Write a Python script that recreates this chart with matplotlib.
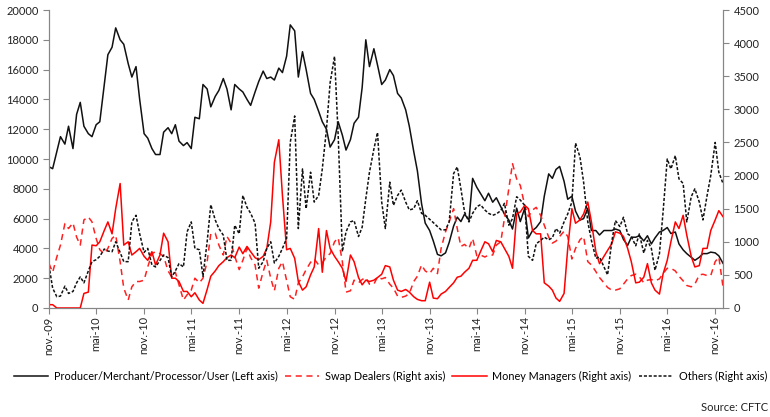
import matplotlib
matplotlib.use('Agg')
import matplotlib.pyplot as plt
import matplotlib.dates as mdates
import pandas as pd

plt.rcParams['font.family'] = ['Lato', 'DejaVu Sans']

################## Datos (dos puntos por mes, nov-09 -> dic-16)
producer = [
    9480, 9350, 10500, 11500,
    11000, 12200, 10700, 13000, 13800, 12200, 11700, 11500, 12300, 12500, 15000, 17000,
    17500, 18800, 18000, 17700, 16400, 15500, 16200, 14000, 11700, 11400, 10700, 10300,
    10300, 11800, 12100, 11700, 12300, 11200, 10900, 11100, 10700, 12800, 12700, 15000,
    14700, 13500, 14200, 14600, 15400, 14700, 13300, 15000, 14700, 14500, 14000, 13600,
    14500, 15200, 15900, 15400, 15500, 15300, 16100, 15800, 16900, 19000, 18600, 15500,
    17200, 16000, 14400, 14000, 13200, 12500, 12000, 10800, 11300, 12500, 11600, 10600,
    11300, 12400, 12800, 14800, 18000, 16200, 17400, 16300, 15000, 15300, 16000, 15600,
    14400, 14100, 13300, 12200, 10500, 9200, 7000, 5700, 5200, 4500, 3600, 3500,
    3700, 4400, 5500, 6100, 5800, 6300, 5900, 8700, 8100, 7700, 7200, 7700,
    7100, 7400, 6800, 6300, 5900, 5300, 6700, 5800, 6700, 4700, 5200, 5400,
    5800, 7500, 9000, 8700, 9300, 9500, 8500, 7300, 7500, 6500, 5900, 6000,
    6700, 5200, 5200, 4900, 5200, 5200, 5200, 5300, 5200, 4600, 4200, 4750,
    4750, 4850, 4500, 4850, 4300, 4700, 5100, 5200, 5400, 5000, 5100, 4300,
    3900, 3650, 3400, 3200, 3400, 3650, 3650, 3750, 3700, 3500, 3000,
]
swap_dealers = [
    670, 540, 770, 950,
    1275, 1200, 1285, 1070, 950, 1330, 1375, 1300, 1050, 880, 820, 900,
    1050, 1100, 700, 300, 120, 320, 400, 400, 420, 620, 820, 850,
    820, 780, 560, 470, 540, 350, 120, 200, 270, 450, 380, 450,
    700, 1120, 1130, 950, 800, 1080, 980, 780, 580, 720, 900, 760,
    650, 300, 550, 720, 450, 260, 600, 700, 420, 170, 130, 380,
    470, 580, 690, 740, 650, 680, 780, 820, 1000, 1060, 700, 240,
    260, 420, 380, 430, 460, 360, 360, 470, 440, 460, 360, 300,
    180, 160, 180, 220, 400, 480, 650, 560, 520, 600, 520, 900,
    1150, 1300, 1500, 1200, 930, 960, 900, 1050, 790, 800, 770, 800,
    800, 950, 1000, 1350, 1800, 2180, 1950, 1850, 1550, 1380, 1480, 1520,
    1400, 1250, 1070, 980, 1010, 1080, 1160, 1080, 740, 900, 1030, 1080,
    700, 650, 550, 460, 380, 310, 270, 270, 290, 360, 440, 490,
    510, 470, 380, 420, 430, 410, 440, 520, 600, 600, 560, 480,
    410, 340, 320, 360, 500, 510, 490, 490, 700, 770, 320,
]
money_managers = [
    50, 50, 0, 0,
    0, 0, 0, 0, 0, 220, 240, 950, 940, 1000, 1170, 1300,
    1120, 1500, 1880, 950, 1000, 800, 850, 900, 780, 720, 850, 650,
    800, 1130, 1000, 450, 450, 400, 250, 250, 170, 230, 120, 70,
    280, 480, 560, 640, 700, 760, 800, 760, 920, 820, 930, 850,
    760, 730, 780, 900, 1300, 2200, 2540, 1700, 880, 900, 750, 400,
    270, 320, 500, 620, 1200, 540, 1170, 900, 780, 700, 600, 400,
    800, 700, 460, 350, 420, 400, 420, 460, 510, 640, 620, 420,
    270, 250, 280, 240, 170, 130, 110, 110, 390, 150, 140, 210,
    250, 310, 380, 465, 480, 540, 600, 720, 720, 850, 1000, 970,
    850, 1020, 1000, 900, 780, 600, 1420, 1450, 1550, 1500, 1170, 1120,
    1120, 380, 330, 270, 150, 100, 220, 900, 1500, 1280, 1330, 1420,
    1600, 1300, 850, 670, 780, 870, 970, 1150, 1130, 1080, 900, 700,
    380, 390, 465, 670, 380, 270, 210, 515, 720, 1000, 1300, 1200,
    1400, 1100, 780, 620, 640, 900, 900, 1170, 1330, 1470, 1380,
]
others = [
    640, 300, 170, 180,
    330, 220, 250, 380, 470, 380, 560, 700, 730, 780, 890, 860,
    850, 1000, 840, 700, 700, 1300, 1400, 1120, 840, 900, 650, 620,
    720, 800, 760, 470, 560, 670, 620, 1150, 1300, 900, 880, 480,
    1000, 1560, 1330, 1200, 1100, 720, 720, 1250, 1120, 1700, 1520, 1430,
    1280, 600, 700, 900, 1000, 680, 780, 900, 1050, 2500, 2900, 1200,
    2100, 1500, 2050, 1600, 1700, 2100, 2700, 3400, 3800, 2600, 850, 1150,
    1300, 1320, 1080, 1220, 1650, 2050, 2400, 2650, 1600, 1200, 1900, 1550,
    1700, 1780, 1600, 1480, 1500, 1620, 1430, 1400, 1340, 1290, 1230, 1180,
    1180, 1300, 2030, 2130, 1800, 1450, 1300, 1430, 1530, 1560, 1480, 1430,
    1400, 1420, 1470, 1580, 1250, 1350, 1680, 1630, 1550, 780, 720, 970,
    1020, 1070, 1030, 1060, 1200, 1130, 1300, 1420, 1600, 2490, 2280, 1900,
    1300, 1020, 750, 770, 620, 500, 1000, 1320, 1230, 1370, 1120, 1080,
    940, 1120, 830, 1020, 900, 570, 820, 1450, 2250, 2100, 2300, 1950,
    1880, 1300, 1680, 1800, 1600, 1330, 1700, 2000, 2500, 2050, 1880,
]
dates = pd.date_range('2009-11-01', periods=len(producer), freq='SMS')

left_ticks = list(range(0, 20001, 2000))
right_ticks = list(range(0, 4501, 500))
mois = {5: 'mai', 11: 'nov.'}

################## Figure
fig = plt.figure(figsize=(7.7, 4.17), dpi=100, facecolor='w')
ax = fig.add_axes([49/770, 109/417, 674/770, 298/417])
ax2 = ax.twinx()

l1, = ax.plot(dates, producer, color='#111111', lw=1.1,
              label='Producer/Merchant/Processor/User (Left axis)')
l2, = ax2.plot(dates[:len(swap_dealers)], swap_dealers, color='#ff2020', lw=1.1,
               ls=(0, (4, 3)), label='Swap Dealers (Right axis)')
l3, = ax2.plot(dates[:len(money_managers)], money_managers, color='#ff0000', lw=1.1,
               label='Money Managers (Right axis)')
l4, = ax2.plot(dates[:len(others)], others, color='#111111', lw=1.1,
               ls=(0, (2, 1.2)), label='Others (Right axis)')

ax.set_ylim(0, 20000)
ax2.set_ylim(0, 4500)
ax.set_yticks(left_ticks)
ax2.set_yticks(right_ticks)
ax.set_xlim(dates[0], dates[-1])

ax.xaxis.set_major_locator(mdates.MonthLocator(bymonth=[5, 11]))
ax.xaxis.set_major_formatter(plt.FuncFormatter(
    lambda v, p: '%s-%s' % (mois[mdates.num2date(v).month], mdates.num2date(v).strftime('%y'))))
plt.setp(ax.get_xticklabels(), rotation=90)

for a in (ax, ax2):
    for s in a.spines.values():
        s.set_color('#868686')
    a.spines['top'].set_visible(False)
    a.tick_params(colors='#868686', labelcolor='#222222', labelsize=8, length=4, width=0.8)

ax.tick_params(axis='x', pad=2)

fig.legend(handles=[l1, l2, l3, l4], loc='center', bbox_to_anchor=(0.507, 0.098),
           ncol=4, frameon=False, fontsize=7.8, handlelength=3.2, columnspacing=0.65,
           handletextpad=0.5, borderpad=0.1, borderaxespad=0)
fig.text(0.997, 0.022, 'Source: CFTC', ha='right', va='center', fontsize=8, color='#222222')

plt.savefig('out.png', dpi=100)
